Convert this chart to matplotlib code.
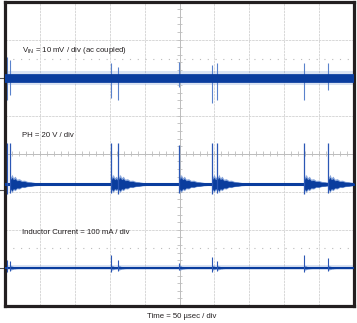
import matplotlib
matplotlib.use("Agg")
import matplotlib.pyplot as plt
import numpy as np

# scope screen: 10 x 8 divisions
n_xdiv, n_ydiv = 10, 8

# trace levels (div from bottom)
vin_level = 6.0
ph_level = 3.2
il_level = 1.0
gnd_marks = [6.0, 3.05, 1.0]

# switching bursts (time in div)
burst_t = [0.06, 0.14, 3.04, 3.24, 4.99, 5.93, 6.07, 8.57, 9.25]

# Vin spikes
vin_top = [6.54, 6.46, 6.38, 6.27, 6.40, 6.33, 6.38, 6.38, 6.38]
vin_bot = [5.41, 5.54, 5.46, 5.41, 5.75, 5.33, 5.41, 5.41, 5.67]

# PH spikes
ph_top = [4.27, 4.27, 4.27, 4.27, 4.22, 4.27, 4.27, 4.27, 4.27]
ph_bot = [2.95, 2.97, 2.97, 2.95, 2.97, 2.95, 2.97, 2.95, 2.97]

# PH ringing envelope after each burst (offset div, half width px)
ring_start = [0.14, 3.04, 3.24, 4.99, 5.93, 6.07, 8.57, 9.25]
ring_off = [0.0, 0.03, 0.06, 0.1, 0.15, 0.2, 0.27, 0.34, 0.42, 0.5, 0.6, 0.7, 0.85]
ring_up = [12, 7, 10, 6.5, 8, 5, 5.5, 3.8, 4, 2.8, 2.6, 1.8, 1.2]
ring_dn = [9, 6, 8.5, 5.5, 6.5, 4.5, 4.8, 3.2, 3.4, 2.4, 2.2, 1.6, 1.2]

# inductor current spikes
il_top = [1.22, 1.18, 1.34, 1.20, 1.12, 1.30, 1.18, 1.33, 1.26]
il_bot = [0.90, 0.92, 0.90, 0.92, 0.94, 0.90, 0.92, 0.90, 0.92]

labels = ["V$_{\\rm IN}$ = 10 mV / div (ac coupled)",
          "PH = 20 V / div",
          "Inductor Current = 100 mA / div"]
label_y = [6.72, 4.49, 1.92]
time_label = "Time = 50 \u00b5sec / div"

plt.rcParams['font.family'] = ['Liberation Sans', 'DejaVu Sans']
plt.rcParams['mathtext.fontset'] = 'custom'
plt.rcParams['mathtext.rm'] = 'Liberation Sans'

dark = '#0a3d9e'
light = '#5a82cc'
px = 1 / 38.1  # one pixel in y-div

fig = plt.figure(figsize=(3.57, 3.23), dpi=100)
ax = fig.add_axes([5 / 357, 17 / 323, 349 / 357, 304.5 / 323])
ax.set_xlim(0, n_xdiv)
ax.set_ylim(0, n_ydiv)
ax.set_xticks([])
ax.set_yticks([])
for s in ax.spines.values():
    s.set_linewidth(2.3)
    s.set_color('#231f20')

# grid
for i in range(1, n_xdiv):
    ax.axvline(i, color='#d2d2d2', lw=0.6, ls=(0, (3, 1)), zorder=0)
for j in range(1, n_ydiv):
    ax.axhline(j, color='#d2d2d2', lw=0.6, ls=(0, (3, 1)), zorder=0)
ax.axvline(n_xdiv / 2, color='#bdbdbd', lw=0.7, zorder=0)
ax.axhline(n_ydiv / 2, color='#bdbdbd', lw=0.7, zorder=0)
xt = np.arange(0, n_xdiv + 0.01, 0.2)
yt = np.arange(0, n_ydiv + 0.01, 0.2)
ax.vlines(xt, n_ydiv / 2 - 2.5 * px, n_ydiv / 2 + 2.5 * px, color='#bdbdbd', lw=0.6, zorder=0)
ax.hlines(yt, n_xdiv / 2 - 0.07, n_xdiv / 2 + 0.07, color='#bdbdbd', lw=0.6, zorder=0)
for yd in [6.5, 1.52]:
    ax.axhline(yd, color='#bbbbbb', lw=0.8, ls=(0, (1, 6)), zorder=0)

# Vin trace
ax.axhspan(vin_level - 7 * px, vin_level + 7 * px, color=light, alpha=0.22, lw=0, zorder=1)
ax.axhline(vin_level - 0.5 * px, color=dark, lw=6.3, zorder=3)
ax.vlines(burst_t, vin_bot, vin_top, color=light, lw=0.8, zorder=2)

# PH trace
ax.axhline(ph_level, color=dark, lw=2.2, zorder=3)
for t0 in ring_start:
    tt = [t0 + o for o in ring_off]
    up = [ph_level + u * px for u in ring_up]
    dn = [ph_level - d * px for d in ring_dn]
    ax.fill_between(tt, dn, up, color=light, alpha=0.75, lw=0, zorder=2)
    up2 = [ph_level + 0.7 * u * px for u in ring_up]
    dn2 = [ph_level - 0.8 * d * px for d in ring_dn]
    ax.fill_between(tt, dn2, up2, color=dark, lw=0, zorder=3)
ax.vlines(burst_t, ph_bot, ph_top, color='#2b57b5', lw=0.9, zorder=4)

# inductor current trace
ax.axhspan(il_level - 2.5 * px, il_level + 2.5 * px, color=light, alpha=0.22, lw=0, zorder=1)
ax.axhline(il_level, color=dark, lw=1.5, zorder=3)
for t0 in ring_start:
    tt = [t0 + o * 0.35 for o in ring_off]
    up = [il_level + 0.3 * u * px for u in ring_up]
    dn = [il_level - 0.3 * d * px for d in ring_dn]
    ax.fill_between(tt, dn, up, color=light, alpha=0.8, lw=0, zorder=2)
ax.vlines(burst_t, il_bot, il_top, color='#2b57b5', lw=0.8, zorder=4)

# ground markers left of the frame
for g in gnd_marks:
    ax.plot([-0.14, -0.03], [g, g], color='#555555', lw=0.8, clip_on=False)

for lab, yl in zip(labels, label_y):
    ax.text(0.49, yl, lab, fontsize=5.6, color='#231f20', va='center', ha='left', zorder=5)

fig.text(182 / 357, 7 / 323, time_label, fontsize=5.6, color='#231f20', ha='center', va='center')

fig.savefig("out.png", dpi=100)
